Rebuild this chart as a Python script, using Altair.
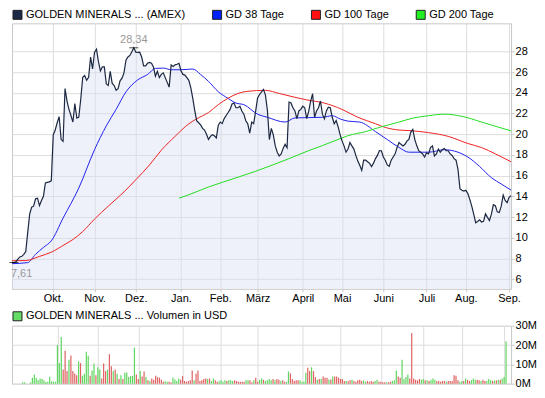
import json
import altair as alt
import pandas as pd

FONT = "Liberation Sans"

series_names = ["GOLDEN MINERALS ... (AMEX)", "GD 38 Tage", "GD 100 Tage", "GD 200 Tage"]
legend_colors = ["#1c2a4a", "#0022ff", "#ff1111", "#22ee22"]
line_colors = ["#1c2841", "#2222ee", "#ee2222", "#22dd22"]
vol_name = ["GOLDEN MINERALS ... Volumen in USD"]
vol_legend_color = ["#66dd66"]

month_days = [21, 42, 63, 86, 106, 125, 148, 168, 189, 211, 231, 253]
month_labels = ["Okt.", "Nov.", "Dez.", "Jan.", "Feb.", "März", "April", "Mai", "Juni", "Juli", "Aug.", "Sep."]
price_ticks = [6, 8, 10, 12, 14, 16, 18, 20, 22, 24, 26, 28]
vol_ticks = [0, 10, 20, 30]

# daily closing price (one value per trading day)
price = [
    7.63, 7.61, 7.69, 7.94, 8.15, 8.21, 8.4, 8.67, 10.5, 12.29,
    12.96, 13.05, 13.76, 13.82, 13.1, 13.6, 14.0, 15.3, 15.35, 15.4,
    15.5, 19.95, 20.4, 21.1, 21.7, 19.5, 19.3, 24.4, 23.2, 22.4,
    21.8, 21.17, 22.95, 21.55, 21.65, 23.4, 25.5, 25.67, 25.2, 25.5,
    27.45, 26.3, 27.9, 28.2, 27.0, 26.1, 26.5, 26.5, 24.85, 24.7,
    26.07, 24.9, 24.7, 24.24, 24.39, 25.15, 25.4, 25.92, 27.15, 27.45,
    27.6, 27.95, 28.34, 27.91, 27.9, 27.91, 27.45, 26.6, 26.6, 26.84,
    26.93, 26.84, 26.5, 25.6, 26.07, 25.46, 25.77, 25.92, 25.46, 25.0,
    24.54, 26.69, 26.53, 26.69, 26.75, 26.84, 26.13, 25.77, 25.7, 25.45,
    25.2, 24.5, 23.47, 22.3, 21.3, 21.1, 20.9, 20.56, 20.4, 20.0,
    19.5, 19.79, 19.94, 19.85, 19.64, 20.86, 21.17, 21.02, 21.5, 21.8,
    22.09, 22.39, 22.91, 23.01, 22.55, 22.55, 22.7, 22.24, 21.93, 21.3,
    21.0, 20.1, 21.17, 21.02, 22.2, 23.5, 23.83, 24.08, 24.32, 23.77,
    22.3, 19.48, 20.56, 19.94, 18.87, 18.26, 17.9, 18.1, 18.63, 19.02,
    18.7, 23.1, 23.01, 22.55, 22.24, 21.5, 22.24, 22.39, 22.7, 22.55,
    21.5, 22.2, 23.2, 23.9, 21.63, 22.24, 22.55, 23.2, 21.93, 21.47,
    22.24, 22.6, 22.55, 21.63, 21.01, 21.32, 20.71, 19.95, 19.33, 18.87,
    18.26, 18.56, 19.2, 18.87, 18.56, 17.95, 17.4, 17.0, 16.5, 17.5,
    17.49, 17.34, 17.18, 16.88, 17.2, 17.64, 17.95, 18.41, 18.4, 17.8,
    17.49, 17.03, 16.9, 17.49, 17.8, 18.1, 18.72, 19.2, 19.02, 18.87,
    19.02, 19.33, 19.5, 20.2, 20.46, 19.5, 18.9, 18.41, 18.26, 18.1,
    17.8, 18.2, 18.1, 18.71, 18.87, 17.9, 18.1, 18.56, 18.26, 18.5,
    18.62, 18.41, 18.4, 18.1, 17.95, 17.64, 17.49, 16.6, 14.73, 14.58,
    14.5, 14.58, 14.27, 13.7, 13.05, 12.28, 11.45, 11.58, 11.73, 11.52,
    11.58, 12.3, 11.97, 11.67, 12.28, 13.2, 13.1, 12.5, 12.43, 13.05,
    14.12, 13.6, 13.4, 13.9, 14.05,
]

# moving averages, read at selected trading days
ma38_day = [0, 8, 12, 16, 20, 26, 34, 42, 48, 53, 58, 64, 69, 73, 77, 81, 86, 92, 96, 100,
            105, 110, 114, 118, 125, 130, 139, 144, 151, 158, 163, 167, 171, 177, 185, 191,
            197, 202, 212, 220, 227, 232, 238, 244, 249, 254]
ma38 = [7.5, 7.6, 8.4, 9.07, 9.7, 11.9, 14.8, 18.5, 20.8, 22.4, 24.08, 25.24, 25.76, 26.35,
        26.38, 26.22, 26.22, 26.29, 25.76, 25.1, 24.1, 23.45, 23.0, 22.85, 21.93, 21.63, 21.17,
        21.57, 21.6, 21.63, 21.78, 21.47, 21.26, 21.17, 20.25, 19.48, 18.72, 18.26, 18.26,
        18.5, 18.26, 17.8, 16.88, 15.8, 15.19, 14.6]
ma100_day = [0, 7, 14, 20, 27, 31, 36, 42, 49, 57, 63, 70, 76, 83, 90, 94, 100, 105, 110, 115,
             120, 129, 136, 144, 150, 159, 168, 176, 185, 190, 197, 202, 212, 222, 232, 239,
             246, 254]
ma100 = [7.78, 7.8, 8.2, 8.61, 9.37, 9.83, 10.6, 11.8, 13.05, 14.43, 15.6, 17.03, 18.45, 19.79,
         21.0, 21.48, 22.09, 22.85, 23.47, 23.93, 24.14, 24.23, 23.93, 23.56, 23.31, 23.0,
         22.39, 21.63, 21.01, 20.65, 20.4, 20.35, 20.15, 19.79, 19.1, 18.71, 18.1, 17.34]
ma200_day = [85, 90, 100, 107, 124, 141, 151, 158, 168, 171, 180, 188, 197, 204, 212, 220,
             229, 239, 247, 254]
ma200 = [13.82, 14.15, 14.9, 15.35, 16.42, 17.64, 18.41, 18.9, 19.64, 19.85, 20.25, 20.71,
         21.17, 21.55, 21.78, 21.93, 21.72, 21.17, 20.71, 20.32]

# daily volume in million USD, g = up day (green), r = down day (red)
vol = [
    0, 0, 0, 0.7, 0.7, 0, 0, 0.7, 3.1, 4.8, 3.1, 1.7, 2.7, 2.4, 1.7, 0.9, 1.0, 3.6, 1.2, 1.0, 1.0,
    20.1, 10.7, 24.2, 7.3, 17.0, 6.5, 12.4, 14.6, 6.5, 5.3, 4.4, 11.6, 10.7, 4.1, 5.1, 16.5, 14.5,
    4.1, 6.8, 10.4, 4.4, 8.5, 7.3, 2.7, 10.4, 6.5, 7.2, 15.3, 9.0, 6.5, 7.3, 5.1, 2.4, 4.4, 2.4,
    5.6, 5.8, 3.4, 3.9, 4.1, 18.7,
    4.8, 2.4, 6.5, 3.7, 6.3, 3.4, 1.7, 1.4, 2.7, 2.0, 4.1, 3.4, 3.1, 2.0, 1.0, 1.2, 1.0, 1.0, 0.7,
    3.2, 2.2, 1.4, 2.7, 2.0, 3.9, 1.4, 1.0, 1.4, 1.7, 6.8, 1.7, 5.1, 6.8, 1.4, 1.7, 2.4, 2.7, 2.4,
    2.7, 1.4, 2.7, 1.7, 1.0, 1.2, 1.7, 1.0, 1.7, 1.4, 1.7, 1.7, 1.4, 1.7, 1.4, 1.0, 1.0, 1.0, 1.0,
    1.7, 1.7, 1.7, 0.7, 1.7, 3.1, 1.0, 2.0, 2.7, 2.0, 1.4, 1.7, 2.4, 1.7, 2.4, 1.7, 2.4, 2.0, 1.4,
    1.7, 1.0, 1.0, 6.3,
    5.3, 2.4, 1.4, 1.7, 1.7, 1.7, 1.0, 1.0, 5.6, 8.2, 6.5, 8.5, 6.5, 3.4, 2.0, 2.4, 2.4, 3.7, 3.1,
    3.1, 2.2, 2.2, 3.7, 3.7, 3.7, 3.1, 2.4, 2.4, 1.4, 1.4, 1.2, 1.7, 2.0, 1.4, 1.0, 1.7, 2.0, 1.4,
    1.7, 1.0, 1.4, 1.0, 1.4, 1.0, 1.4, 2.0, 1.0, 1.0, 0.7, 0.7, 0.7, 0.7, 1.0, 1.4, 1.7, 6.8, 3.7,
    3.1, 12.4, 2.4, 3.4, 4.8, 2.7, 26.2, 2.7, 2.0, 1.7, 2.4, 2.0, 2.4, 1.7, 1.7, 1.4, 2.0, 2.7,
    2.0, 1.2, 1.4, 1.0, 1.4, 1.4, 1.0, 1.4, 1.4, 1.4, 4.4, 4.1, 1.7, 1.0, 1.2, 1.4, 2.7, 2.0, 1.4,
    1.7, 2.7, 2.0, 2.0, 1.7, 1.4, 2.0, 1.4, 1.4, 2.4, 1.7, 1.4, 1.7, 1.7, 2.0, 2.0, 2.7, 3.4, 21.8,
]
vol_dir = list(
    "ggggggggggggggggggggg"
    "gggrrrgrrrrgrggggrggrggrrrgrrgrgrgrgggggg"
    "rrgrrgrgrr" "rrrrrggrrg" "gggrrrrrrr" "grrrrrrgrg"
    "grrggggrgg" "grrrrrrggr" "rgrrggrggg" "grgrrgrrgg"
    "rrrrrggggr" "rgrrgrgrrr" "grgrrrrrrg" "r" "rgrrrrrggrrrrgg" "r"
    "rrrgrrgggrrggggrr" "rrrrggrgrggg" "r" "rrrrgrrrrrrg" "g"
    "rgrrgggrrgrr" "g" "ggrgrgrggg"
)

# ---------------- data frames ----------------
df_price = pd.DataFrame({"day": list(range(len(price))), "price": price})

ma_rows = []
for name, dd, vv in [(series_names[1], ma38_day, ma38),
                     (series_names[2], ma100_day, ma100),
                     (series_names[3], ma200_day, ma200)]:
    for d, v in zip(dd, vv):
        ma_rows.append({"day": d, "price": v, "serie": name})
df_ma = pd.DataFrame(ma_rows)

vrows = [{"day": i, "vol": v, "dir": c} for i, (v, c) in enumerate(zip(vol, vol_dir))]
df_vol = pd.DataFrame(vrows)


def de(v):
    return f"{v:.2f}".replace(".", ",")


imin = price.index(min(price))
imax = price.index(max(price))
df_ext = pd.DataFrame({
    "day": [imin, imax],
    "price": [price[imin], price[imax]],
    "label": [de(price[imin]), de(price[imax])],
    "pos": ["min", "max"],
})

df_leg = pd.DataFrame({"serie": series_names})
df_vleg = pd.DataFrame({"serie": vol_name})

label_expr = f"{json.dumps(month_labels)}[indexof({json.dumps(month_days)}, datum.value)]"

W = 500
H1 = 266
H2 = 58
YMIN, YMAX = 5.07, 30.7

x_top = alt.X("day:Q", scale=alt.Scale(domain=[0, len(price) - 1], nice=False, zero=False),
              axis=alt.Axis(values=month_days, labelExpr=label_expr, grid=True, tickSize=3,
                            labelPadding=1, labelFlush=False, labelOverlap=False, title=None))
y_top = alt.Y("price:Q", scale=alt.Scale(domain=[YMIN, YMAX], nice=False, zero=False),
              axis=alt.Axis(orient="right", values=price_ticks, tickSize=3, labelPadding=1,
                            title=None, labelFlush=False))

area = alt.Chart(df_price).mark_area(color="#d9e0f3", opacity=0.45, clip=True).encode(
    x=x_top, y=y_top, y2=alt.datum(YMIN))
ma_lines = alt.Chart(df_ma).mark_line(strokeWidth=1, interpolate="monotone").encode(
    x=x_top, y=y_top,
    stroke=alt.Stroke("serie:N", scale=alt.Scale(domain=series_names[1:], range=line_colors[1:]),
                      legend=None),
)
price_line = alt.Chart(df_price).mark_line(color=line_colors[0], strokeWidth=1.2).encode(x=x_top, y=y_top)
ext_tick = alt.Chart(df_ext).mark_tick(orient="horizontal", size=9, thickness=1, color="black").encode(
    x=x_top, y=y_top)
min_text = alt.Chart(df_ext).transform_filter("datum.pos == 'min'").mark_text(
    align="left", baseline="top", dx=-3, dy=6, font=FONT, fontSize=11, color="#999999"
).encode(x=x_top, y=y_top, text="label:N")
max_text = alt.Chart(df_ext).transform_filter("datum.pos == 'max'").mark_text(
    align="center", baseline="bottom", dy=-3, font=FONT, fontSize=11, color="#999999"
).encode(x=x_top, y=y_top, text="label:N")
legend_top = alt.Chart(df_leg).transform_filter("false").mark_square(opacity=1).encode(
    color=alt.Color("serie:N", scale=alt.Scale(domain=series_names, range=legend_colors),
                    title=None,
                    legend=alt.Legend(orient="top", direction="horizontal", offset=2))
)

top = alt.layer(area, ma_lines, price_line, ext_tick, min_text, max_text, legend_top).properties(
    width=W, height=H1)

x_bot = alt.X("day:Q", scale=alt.Scale(domain=[0, len(price) - 1], nice=False, zero=False),
              axis=alt.Axis(values=month_days, labels=False, ticks=False, grid=True, title=None))
y_bot = alt.Y("vol:Q", scale=alt.Scale(domain=[0, 30], nice=False),
              axis=alt.Axis(orient="right", values=vol_ticks, labelExpr="datum.value + 'M'",
                            tickSize=3, labelPadding=1, title=None, labelFlush=False))
bars = alt.Chart(df_vol).mark_bar(size=1.2).encode(
    x=x_bot, y=y_bot,
    fill=alt.Fill("dir:N", scale=alt.Scale(domain=["g", "r"], range=["#5fd65f", "#e06262"]),
                  legend=None),
)
legend_bot = alt.Chart(df_vleg).transform_filter("false").mark_square(opacity=1).encode(
    color=alt.Color("serie:N", scale=alt.Scale(domain=vol_name, range=vol_legend_color),
                    title=None,
                    legend=alt.Legend(orient="top", direction="horizontal", offset=3))
)
bottom = alt.layer(bars, legend_bot).properties(width=W, height=H2)

chart = alt.vconcat(top, bottom, spacing=5).resolve_scale(color="independent").properties(
    padding={"left": 0, "top": 0, "right": 0, "bottom": 0},
    background="white",
).configure_view(stroke="#c8c8c8", strokeWidth=1).configure_axis(
    labelFont=FONT, labelFontSize=11, labelColor="#000000", gridColor="#dddddd",
    tickColor="#c8c8c8", domain=False,
).configure_legend(
    symbolType="square", symbolSize=81, symbolStrokeColor="#222222", symbolStrokeWidth=1,
    labelFont=FONT, labelFontSize=11, labelColor="#000000", labelOffset=3,
    columnPadding=25, padding=0, labelLimit=400,
)

chart.save("out.html", embed_options={"renderer": "svg", "actions": False})
